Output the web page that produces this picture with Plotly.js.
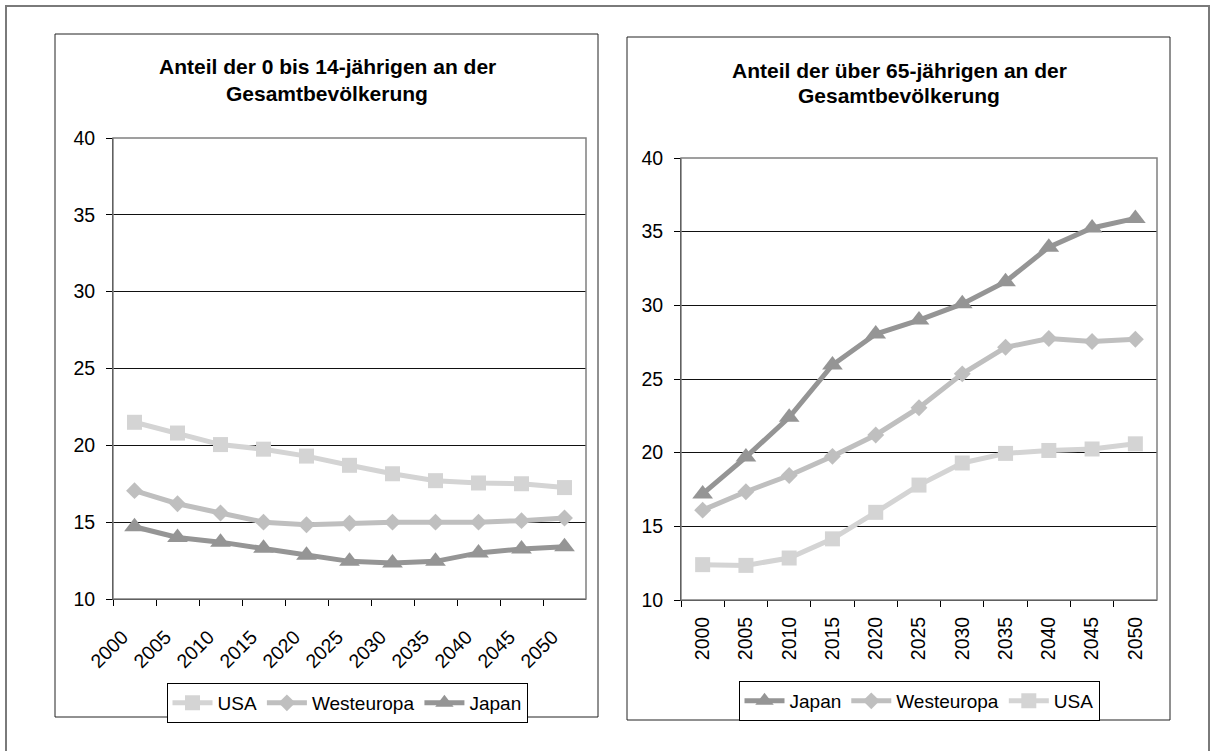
<!DOCTYPE html>
<html>
<head>
<meta charset="utf-8">
<script src="https://cdn.plot.ly/plotly-3.0.1.min.js"></script>
<style>html,body{margin:0;padding:0;background:#fff;}#chart{width:1211px;height:751px;}</style>
</head>
<body>
<div id="chart"></div>
<script>
// ---- Data ----
const years = ["2000","2005","2010","2015","2020","2025","2030","2035","2040","2045","2050"];

// Left chart: share of 0 to 14 year olds (%)
const youngUSA        = [21.5, 20.8, 20.05, 19.75, 19.3, 18.7, 18.15, 17.7, 17.55, 17.5, 17.25];
const youngWesteuropa = [17.05, 16.2, 15.6, 15.0, 14.83, 14.93, 15.0, 15.0, 15.0, 15.1, 15.27];
const youngJapan      = [14.7, 14.0, 13.7, 13.3, 12.85, 12.45, 12.35, 12.45, 13.0, 13.25, 13.4];

// Right chart: share of over 65 year olds (%)
const oldJapan      = [17.2, 19.7, 22.4, 25.95, 28.05, 29.0, 30.1, 31.6, 33.95, 35.25, 35.9];
const oldWesteuropa = [16.1, 17.35, 18.45, 19.75, 21.2, 23.05, 25.35, 27.15, 27.75, 27.55, 27.7];
const oldUSA        = [12.4, 12.35, 12.85, 14.15, 15.95, 17.8, 19.3, 19.95, 20.15, 20.25, 20.6];

const titleLeft1 = "Anteil der 0 bis 14-jährigen an der";
const titleLeft2 = "Gesamtbevölkerung";
const titleRight1 = "Anteil der über 65-jährigen an der";
const titleRight2 = "Gesamtbevölkerung";

// ---- Styles ----
const W = 1211, H = 751;
const px = v => v / W;
const py = v => 1 - v / H;
const FONT = "Liberation Sans, Arial, sans-serif";
const cUSA = "#d4d4d4", cWE = "#bfbfbf", cJP = "#959595";
const LW = 5;

function tr(x, y, name, color, symbol, size, xa, ya, legend) {
  return {
    type: "scatter", mode: "lines+markers", x: x, y: y, name: name,
    xaxis: xa, yaxis: ya, legend: legend,
    line: {color: color, width: LW},
    marker: {color: color, symbol: symbol, size: size, line: {width: 0}},
    hoverinfo: "x+y+name"
  };
}

const data = [
  tr(years, youngUSA, "USA", cUSA, "square", 15, "x", "y", "legend"),
  tr(years, youngWesteuropa, "Westeuropa", cWE, "diamond", 13, "x", "y", "legend"),
  tr(years, youngJapan, "Japan", cJP, "triangle-up", 18, "x", "y", "legend"),
  tr(years, oldJapan, "Japan", cJP, "triangle-up", 18, "x2", "y2", "legend2"),
  tr(years, oldWesteuropa, "Westeuropa", cWE, "diamond", 13, "x2", "y2", "legend2"),
  tr(years, oldUSA, "USA", cUSA, "square", 15, "x2", "y2", "legend2")
];

function xax(domain, angle, anchor, standoff, shift) {
  return {
    domain: domain, anchor: anchor, type: "category",
    tickson: "boundaries", ticks: "outside", ticklen: 6, tickcolor: "#000", tickwidth: 1,
    showline: true, linecolor: "#000", linewidth: 1, showgrid: false,
    tickangle: angle, ticklabelstandoff: standoff, ticklabelshift: shift,
    tickfont: {family: FONT, size: 19.5, color: "#000"},
    range: [-0.5, 10.5], fixedrange: true
  };
}
function yax(domain, anchor) {
  return {
    domain: domain, anchor: anchor, range: [10, 40], dtick: 5, tick0: 10,
    ticks: "outside", ticklen: 6, tickcolor: "#000", tickwidth: 1,
    showline: true, linecolor: "#000", linewidth: 1,
    showgrid: true, gridcolor: "#111", gridwidth: 1, zeroline: false,
    ticklabelstandoff: 7,
    tickfont: {family: FONT, size: 19.5, color: "#000"}, fixedrange: true
  };
}

function rect(x0, y0, x1, y1, color, width) {
  return {type: "rect", xref: "paper", yref: "paper", x0: px(x0), x1: px(x1), y0: py(y1), y1: py(y0),
    line: {color: color, width: width}, fillcolor: "rgba(0,0,0,0)", layer: "above"};
}
function ttl(text, cx, cy) {
  return {text: "<b>" + text + "</b>", xref: "paper", yref: "paper", x: px(cx), y: py(cy),
    xanchor: "center", yanchor: "middle", showarrow: false,
    font: {family: FONT, size: 21, color: "#000"}};
}
function leg(cx, topY) {
  return {
    orientation: "h", x: px(cx), xanchor: "center", y: py(topY), yanchor: "top",
    bordercolor: "#000", borderwidth: 1, bgcolor: "#fff",
    font: {family: FONT, size: 19, color: "#000"},
    itemwidth: 40, tracegroupgap: 0, traceorder: "normal", itemclick: false
  };
}

const layout = {
  width: W, height: H,
  margin: {l: 0, r: 0, t: 0, b: 0},
  paper_bgcolor: "#fff", plot_bgcolor: "#fff",
  showlegend: true,
  xaxis: xax([px(113), px(586)], -45, "y", 18, -12),
  yaxis: yax([py(599), py(138)], "x"),
  xaxis2: xax([px(681), px(1157)], -90, "y2", 8, 0),
  yaxis2: yax([py(600), py(158)], "x2"),
  legend: leg(347, 683),
  legend2: leg(919, 681),
  shapes: [
    rect(6, 6, 1209, 752, "#7a7a7a", 2),
    rect(55, 34, 598, 717, "#222", 1),
    rect(627, 37, 1170, 720, "#222", 1),
    rect(113, 138, 586, 599, "#808080", 1.5),
    rect(681, 158, 1157, 600, "#808080", 1.5)
  ],
  annotations: [
    ttl(titleLeft1, 327, 67),
    ttl(titleLeft2, 327, 93),
    ttl(titleRight1, 899, 70),
    ttl(titleRight2, 899, 96)
  ]
};

Plotly.newPlot("chart", data, layout, {displayModeBar: false, staticPlot: true});
</script>
</body>
</html>
